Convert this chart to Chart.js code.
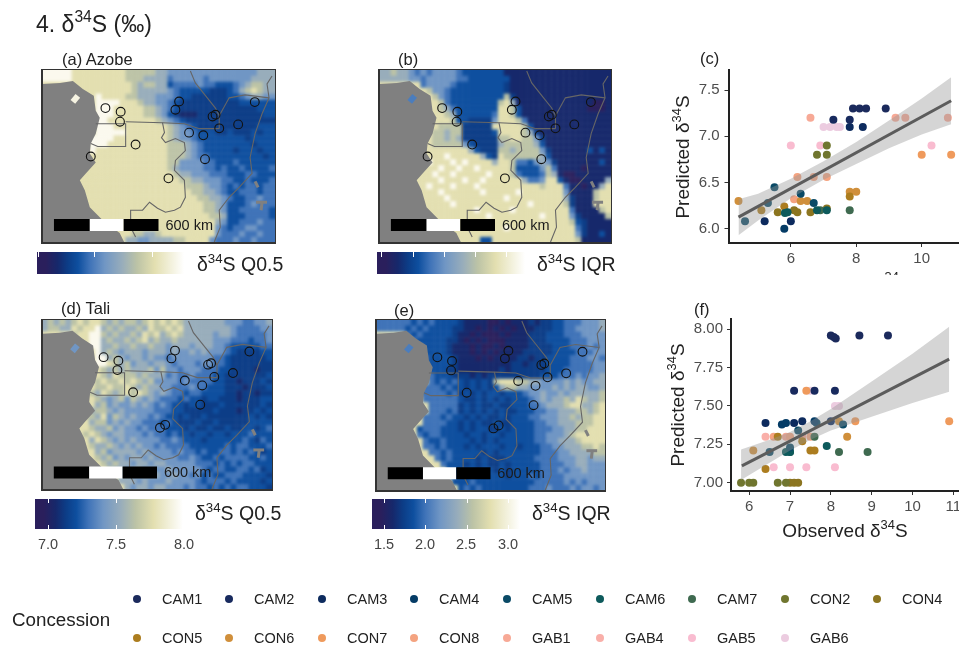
<!DOCTYPE html>
<html>
<head>
<meta charset="utf-8">
<title>d34S maps</title>
<script src="https://cdn.jsdelivr.net/npm/chart.js@4/dist/chart.umd.js"></script>
<style>
html,body{margin:0;padding:0;background:#fff;overflow:hidden}
#page{position:relative;width:959px;height:646px;overflow:hidden;font-family:"Liberation Sans",Arial,sans-serif;color:#222;filter:blur(.3px)}
#page canvas{position:absolute}
.t{position:absolute;white-space:nowrap;line-height:1;transform:translateY(-50%)}
.t sup{font-size:68%;line-height:0;vertical-align:baseline;position:relative;top:-.62em}
.frame{position:absolute;box-sizing:border-box;border-style:solid;border-color:#333;border-width:1.5px 1.5px 2.5px 2px;pointer-events:none}
.clip{position:absolute;overflow:hidden}
.bar{position:absolute}
.tick{position:absolute;width:1px;background:#fff}
.dot{position:absolute;border-radius:50%}
</style>
</head>
<body>
<div id="page"></div>
<script>
// 色階:代碼 0-9 對應
const ramp = ["#2a1f5c","#16286b","#0c3d87","#0e4f9f","#3f73b8","#7096c4","#98adbb","#bcc3a6","#e3dfb0","#fbf9ee"];

// 網格值 (每列 39 格,29 列)
const gridA = [
"99999 88888 88887 77776 65555 55555 55555 5666",
"99999 88888 88887 77666 64555 55455 55555 6666",
"88888 88888 88888 76776 63444 45443 33456 7766",
"88888 88888 88888 76666 65433 33322 23467 8766",
"88888 88889 88887 76665 55433 22222 23345 6655",
"88888 88889 99988 87665 54322 22222 22233 3333",
"88888 88889 99888 88776 54322 22222 22222 2333",
"88888 88889 99888 88776 53211 12222 22222 2233",
"88888 88889 98888 88887 65432 22222 22222 2222",
"88888 88889 99888 88888 87654 32222 22222 2333",
"88888 88889 99998 88888 87655 43332 23222 3233",
"88888 88899 99888 88888 87655 43333 33332 3333",
"88888 88899 98888 88888 87776 54333 33333 2333",
"88888 88898 88888 88888 87776 54333 33233 3233",
"88888 88888 88888 88888 87776 54433 33333 3323",
"88888 88888 88888 88888 87755 55443 33433 3333",
"88888 88888 88888 88888 87655 55443 43343 3334",
"88888 88888 88888 88888 88766 55544 43334 4333",
"88888 88888 88888 88888 88877 66555 44334 3334",
"88888 88888 88888 88888 88887 77655 43434 4344",
"88888 88888 88888 88888 88888 77665 43344 4344",
"88888 88888 88888 88888 88888 87766 54334 4544",
"88888 88888 88888 88888 88888 88776 53334 5444",
"88888 88888 88888 88888 88888 88776 53344 4443",
"88888 88888 88888 88888 88888 88877 63334 4443",
"88888 88888 88888 88888 88888 88886 53344 4544",
"88888 88888 88888 88888 88888 88885 43445 5444",
"88888 88888 88888 77667 88888 88885 44454 4544",
"88888 88888 88886 65566 66778 88854 44544 5444"
];
const gridB = [
"66766 54545 55543 33333 31111 11111 11111 1111",
"66666 55455 55544 33333 33111 11111 11111 1111",
"88888 88455 55433 33333 32111 11111 11111 1111",
"88888 88875 54333 33333 32111 11111 11111 1111",
"88888 88887 54333 33333 37211 11111 11111 1111",
"88888 88888 74333 33333 78611 11111 11111 1001",
"88888 88888 76433 33333 88731 11111 11111 0001",
"88888 88888 87633 33334 88731 11111 11111 1111",
"88888 88888 88733 22225 88874 11111 11111 1111",
"88888 88888 77772 22228 88887 31111 11111 1111",
"88888 88887 76772 22223 88887 62111 11111 1111",
"88888 88887 76762 22222 77887 75211 11111 1111",
"88888 88887 77775 32222 67777 76311 11111 1111",
"88888 88888 88888 63222 77677 77521 11111 3131",
"88888 88888 89888 88632 87777 77631 11111 1111",
"88888 88898 88989 88886 88744 35652 11111 1131",
"88888 88888 98898 89888 88733 33574 11110 1111",
"88888 88889 88988 88898 88743 33476 10011 1111",
"88888 88888 98889 88988 88886 44588 31001 1116",
"88888 88898 88988 89888 88888 88788 84110 1168",
"88888 88888 98888 88988 88898 88888 85111 1788",
"88888 88888 89888 88888 89888 88888 86211 1788",
"88888 88888 88988 88888 88888 98888 87211 1888",
"88888 88888 88888 89888 88988 88888 88411 1178",
"88888 88888 88888 88898 88888 88988 88521 1117",
"88888 88888 88888 88888 88888 88888 88732 1111",
"88888 88888 88888 88888 89888 88888 88842 1111",
"88888 88888 88888 88888 88888 88888 88852 1131",
"88888 88888 88888 88338 88888 88888 88871 1111"
];
const gridD = [
"67676 78788 76767 76787 87876 66666 65554 4556",
"67766 87889 67676 67687 78786 66666 66544 4455",
"88888 78899 76766 76878 67876 66665 66544 4445",
"88888 88899 67667 67867 66766 66665 55444 3445",
"88888 88899 66766 76676 65666 56665 54333 3344",
"88888 88889 67656 66566 65655 65655 54322 2233",
"88888 88889 96765 66565 54555 55554 43222 2223",
"88888 88889 98767 56656 65455 54554 43222 2222",
"88888 88898 76767 66675 75545 55444 33222 2122",
"88888 88888 76877 76766 64544 54443 32222 2223",
"88888 88887 87787 87675 55545 44443 32212 2232",
"88888 88887 78778 76766 55444 54433 32221 2223",
"88888 88876 87678 78765 65443 44333 32212 2122",
"88888 88887 65675 76565 44434 33233 22212 2233",
"88888 88786 75655 65654 54332 33222 32222 2232",
"88888 88867 76565 55554 44332 22223 22212 2323",
"88888 88776 85765 65545 43323 22322 22222 3232",
"88888 88867 75656 55444 34322 23223 22222 3333",
"88888 88876 67565 54544 43332 32232 23223 3234",
"88888 88787 65665 55454 43433 23323 32333 4333",
"88888 88868 76565 65555 44543 33233 33334 3243",
"88888 88876 67656 56554 54444 33333 34344 3334",
"88888 88886 75666 65655 55454 43433 44343 4323",
"88888 88887 67565 66565 55544 54334 34444 3343",
"88888 88888 76766 56656 65555 54443 43434 4333",
"88888 88888 87665 66565 56555 55434 43344 3423",
"88888 88888 88766 56566 55655 45343 34443 3332",
"88888 88888 88866 65655 56555 54344 43433 3323",
"88888 88888 88886 56656 65554 54434 34344 3332"
];
const gridE = [
"44444 43434 33332 11110 01011 12122 33444 5556",
"44444 34343 33322 11010 10101 11222 33445 5556",
"88888 43433 33321 10100 01011 12223 33444 5555",
"88888 84333 33221 01010 00111 12223 33344 4555",
"88888 84433 33211 10100 10111 12222 33344 4545",
"88888 88433 33211 10101 01111 22222 33334 4455",
"88888 88843 33321 11010 11112 21223 33344 4554",
"88888 88843 33321 11111 11122 12223 33344 4455",
"88888 88843 33221 11111 12122 22223 33444 4455",
"88888 88844 33322 21212 22222 22233 34445 4556",
"88888 88884 34343 23232 78887 76655 55656 5566",
"88888 88844 43433 23232 36776 65555 65656 6556",
"88888 88444 44342 32323 32333 45565 56566 6667",
"88888 88844 44443 22323 23233 34565 66768 7667",
"88888 88884 44442 32322 32233 34456 66788 6678",
"88888 88884 44342 32323 23223 33445 56667 7678",
"88888 88844 43433 23232 23233 34455 56676 7788",
"88888 88844 44332 32322 32233 33445 56667 7788",
"88888 88344 43332 32332 23233 33444 55667 7888",
"88888 88434 43333 23323 32333 33445 55678 8888",
"88888 88843 34333 32323 23333 33445 56667 8888",
"88888 88844 34333 23233 32332 33344 55666 7787",
"88888 88884 43433 33323 23333 33344 45566 6677",
"88888 88888 43433 33232 22333 33444 45556 6566",
"88888 88888 84333 23232 23233 33344 44556 6555",
"88888 88888 88333 33233 23233 33344 45455 6555",
"88888 88888 88343 33333 33233 34344 44555 5555",
"88888 88888 88833 34333 33333 33444 44545 4555",
"88888 88888 88883 43433 33333 34445 44454 5545"
];

// 地圖座標 (單位約 5.7 km)
const sitesAB = [[63.7,38.3],[79,42],[78.3,52],[94,75],[49,87],[127,109],[137.7,31.7],[134,40],[147.7,63],[162,65.7],[163.7,89.7],[178,58.7],[171.3,46.7],[174.3,45],[197,54.7],[213.7,32.3]];
const sitesDE = [[62.7,38],[77.7,41.7],[76.7,51.3],[92.7,74],[120,110.3],[125.3,107.3],[135.3,31.3],[131.7,39.3],[145.3,62],[163,67],[161,86.7],[175.3,58.3],[169,45.7],[172,44.3],[194.3,54.3],[211,32.3]];
const ocean = [[0,14],[18,13],[31,11],[41,19],[52,26],[54,41],[58,48],[54,64],[49,74],[48,84],[54,93],[44,104],[38,111],[43,121],[48,138],[61,151],[78,164],[83,174],[0,174]];
const island = [[31,32],[36,26]];
const lakes = [[[215,133],[226,133]],[[221,133],[220,141]],[[214,112],[217,118]]];
const borders = [
  [[54,54],[84,54],[84,77],[56,77],[49,74]],
  [[84,52],[121,53],[143,54],[158,59],[178,59]],
  [[121,53],[123,63],[120,68],[124,73],[134,69],[143,73],[144,81],[134,91],[133,101],[143,111],[144,128],[139,138],[133,141],[124,143],[116,139],[108,133],[101,141],[89,141],[89,158],[94,168]],
  [[149,1],[154,13],[166,28],[174,38],[178,46],[178,59]],
  [[178,46],[188,28],[204,25],[228,28]],
  [[231,6],[226,14],[228,28],[221,44],[214,64],[209,88],[211,104],[198,118],[188,128],[178,141],[179,158],[173,173]]
];
const barStops = [12,48,82,117];

// 特許區
const concessions = ["CAM1","CAM2","CAM3","CAM4","CAM5","CAM6","CAM7","CON2","CON4","CON5","CON6","CON7","CON8","GAB1","GAB4","GAB5","GAB6"];
const concessionColors = ["#1b2a5c","#182a5e","#0d2b5e","#053c66","#0a4a66","#0d5a5c","#3f6a50","#70762f","#8c7520","#ac7d1f","#d08f3b","#ef9a5c","#f4a380","#f7a996","#f9afa9","#f9bcd0","#eccce0"];

// (c) Azobe 觀測值/預測值
const obsC = [[7.9,8.1,8.3,8.9],[7.3,7.8],[7.8,8.2,5.2,6.0],[5.8],[6.3,6.7,5.3,5.5,4.6],[5.82,5.9,6.8,7.1],[7.8,6.9],[6.8,7.1,7.1],[5.6,6.2,6.6,7.1,6.1],[5.8,5.1,7.8],[4.4,6.3,6.5,7.8,8.0],[10,10.9],[6.1,6.2,7.1,6.7],[6.6,9.2,9.5,10.8],[],[6.0,6.9,10.3],[7.0,7.2,7.4,7.5]];
const predC = [[7.3,7.3,7.3,7.3],[7.18,7.18],[7.1,7.1,6.08,6.08],[6.0],[6.38,6.28,6.28,6.45,6.08],[6.17,6.18,6.2,6.2],[6.2,6.2],[6.8,6.8,6.9],[6.18,6.18,6.18,6.22,6.2],[6.24,6.2,6.35],[6.3,6.3,6.3,6.4,6.4],[6.8,6.8],[6.32,6.56,6.56,6.56],[7.2,7.2,7.2,7.2],[],[6.9,6.9,6.9],[7.1,7.1,7.1,7.1]];
const fitXC = [4.4,10.9];
const fitYC = [6.126,7.385];
const bandXC = [4.4,5,6,7,8,9,10,10.9];
const bandHiC = [6.32,6.38,6.54,6.73,6.94,7.17,7.41,7.64];
const bandLoC = [5.93,6.09,6.33,6.53,6.7,6.87,7.02,7.13];
const xTicksC = [6,8,10];
const yTicksC = [6,6.5,7,7.5];

// (f) Tali 觀測值/預測值
const obsF = [[8.0,8.12,8.7,9.4,8.07],[7.1,7.6,8.1],[6.4,7.1,7.3,8.0],[6.8,6.9,7.6],[7.2,7.65,8.3,6.5,7.0],[7.9,7.0,6.9],[7.6,8.9,8.2,7.0],[5.8,6.0,6.1,6.7,6.9],[7.0,7.1,7.2],[6.4,7.5,7.6,7.3,6.7],[6.1,8.4,8.2],[7.4,8.6,10.9],[6.6,7.0,7.5],[6.9,7.3],[6.4],[6.6,7.0,7.4,8.1],[7.5,8.1,8.2]];
const predF = [[7.96,7.94,7.96,7.96,7.95],[7.6,7.6,7.6],[7.39,7.39,7.4,7.4],[7.38,7.39,7.4],[7.34,7.39,7.38,7.2,7.23],[7.24,7.2,7.2],[7.3,7.2,7.2,7.2],[7.0,7.0,7.0,7.0,7.0],[7.0,7.0,7.0],[7.09,7.21,7.21,7.27,7.3],[7.21,7.3,7.4],[7.6,7.4,7.4],[7.3,7.3,7.3],[7.3,7.3],[7.3],[7.1,7.1,7.1,7.1],[7.6,7.5,7.5]];
const fitXF = [5.82,10.9];
const fitYF = [7.11,7.806];
const bandXF = [5.8,6.5,7,7.5,8,9,10,10.9];
const bandHiF = [7.217,7.28,7.33,7.4,7.48,7.66,7.84,8.017];
const bandLoF = [7.017,7.13,7.21,7.28,7.34,7.43,7.52,7.593];
const xTicksF = [6,7,8,9,10,11];
const yTicksF = [7,7.25,7.5,7.75,8];

const ticksD = [7.0,7.5,8.0];
const ticksE = [1.5,2.0,2.5,3.0];

const page = document.getElementById('page');
const toPts = a => a.map(p => ({x:p[0],y:p[1]}));
const zip = (xs,ys) => xs.map((x,i) => ({x:x,y:ys[i]}));

function addText(html,x,y,size,opts){
  const d = document.createElement('div');
  d.className = 't';
  d.innerHTML = html;
  d.style.left = x+'px';
  d.style.top = y+'px';
  d.style.fontSize = size+'px';
  if(opts && opts.color) d.style.color = opts.color;
  if(opts && opts.center) d.style.transform = 'translate(-50%,-50%)';
  if(opts && opts.rotate) d.style.transform = 'translate(-50%,-50%) rotate(-90deg)';
  page.appendChild(d);
  return d;
}

function addCanvas(x,y,w,h,parent){
  const c = document.createElement('canvas');
  c.width = w; c.height = h;
  c.style.left = x+'px'; c.style.top = y+'px';
  c.style.width = w+'px'; c.style.height = h+'px';
  (parent||page).appendChild(c);
  return c;
}

function lineSet(pts,color,width){
  return {data:toPts(pts),showLine:true,pointRadius:0,borderColor:color,borderWidth:width,borderCapStyle:'butt',fill:false};
}

const mapOptions = (xMin,xMax,yMin,yMax) => ({
  responsive:false,animation:false,
  layout:{autoPadding:false,padding:0},
  plugins:{legend:{display:false},tooltip:{enabled:false}},
  scales:{
    x:{type:'linear',min:xMin,max:xMax,display:false},
    y:{type:'linear',min:yMin,max:yMax,reverse:true,display:false}
  }
});

// 地圖:網格 (模糊一層) + 海 + 邊界 + 樣點
function drawMap(f,grid,sites,islandColor,barY){
  const rows = grid.map(row => row.replace(/ /g,''));
  const cells = [], colors = [];
  // 外圈多畫一格,模糊時邊緣才不會變淡
  for(let r=-1;r<=rows.length;r++){
    for(let c=-1;c<=39;c++){
      const v = rows[Math.min(Math.max(r,0),rows.length-1)][Math.min(Math.max(c,0),38)];
      cells.push({x:(c+.5)*6,y:(r+.5)*6});
      colors.push(ramp[+v]);
    }
  }
  const sx = f.w/234, sy = f.h/174;
  const clip = document.createElement('div');
  clip.className = 'clip';
  clip.style.cssText = `left:${f.x}px;top:${f.y}px;width:${f.w}px;height:${f.h}px`;
  page.appendChild(clip);
  const rasterW = Math.round(f.w+12*sx), rasterH = Math.round(f.h+12*sy);
  const raster = addCanvas(-6*sx,-6*sy,rasterW,rasterH,clip);
  raster.style.filter = 'blur(1.5px)';
  new Chart(raster,{
    type:'scatter',
    data:{datasets:[{data:cells,pointStyle:'rect',pointRadius:4.45,pointBorderWidth:0,pointBackgroundColor:colors,showLine:false}]},
    options:mapOptions(-6,240,-6,180)
  });

  const layers = [];
  layers.push({data:toPts(ocean),showLine:true,pointRadius:0,borderWidth:0,backgroundColor:'#808080',fill:'shape'});
  layers.push(lineSet(island,islandColor,6));
  lakes.forEach(l => layers.push(lineSet(l,'#808080',3)));
  borders.forEach(b => layers.push(lineSet(b,'#666666',1.1)));
  barStops.slice(0,-1).forEach((s,i) => {
    layers.push(lineSet([[s,barY],[barStops[i+1],barY]],i==1?'#ffffff':'#000000',12));
  });
  layers.push({data:toPts(sites),showLine:false,pointStyle:'circle',pointRadius:4.4,pointBorderWidth:1.1,pointBorderColor:'#111',pointBackgroundColor:'rgba(0,0,0,0)'});
  layers.forEach((l,i) => { l.order = layers.length-i; });
  new Chart(addCanvas(f.x,f.y,f.w,f.h),{
    type:'scatter',
    data:{datasets:layers},
    options:mapOptions(0,234,0,174)
  });
  const fr = document.createElement('div');
  fr.className = 'frame';
  fr.style.cssText = `left:${f.x-1}px;top:${f.y-1}px;width:${f.w+2}px;height:${f.h+2}px`;
  page.appendChild(fr);
  addText('600 km',f.x+sx*124,f.y+sy*barY,14.5,{color:'#1a1a1a'});
}

// 色條
function colorBar(x,y,w,h,tickXs,both){
  const b = document.createElement('div');
  b.className = 'bar';
  b.style.cssText = `left:${x}px;top:${y}px;width:${w}px;height:${h}px;background:linear-gradient(to right,${ramp[0]} 6%,${ramp[1]} 14%,${ramp[2]} 21%,${ramp[3]} 28%,${ramp[4]} 36%,${ramp[5]} 46%,${ramp[6]} 58%,${ramp[7]} 68%,${ramp[8]} 80%,#ffffff 100%)`;
  page.appendChild(b);
  tickXs.forEach(t => {
    [0].concat(both?[h-4]:[]).forEach(o => {
      const k = document.createElement('div');
      k.className = 'tick';
      k.style.left = t+'px';
      k.style.top = (y+o)+'px';
      k.style.height = (both?4:5)+'px';
      page.appendChild(k);
    });
  });
}

// 散佈圖
function drawScatter(box,obs,pred,fitX,fitY,bandX,bandHi,bandLo,xTicks,yTicks,digits,xr,yr){
  const sets = concessions.map((n,i) => ({
    label:n,data:zip(obs[i],pred[i]),showLine:false,
    pointRadius:4,pointBorderWidth:0,pointBackgroundColor:concessionColors[i],order:10
  }));
  sets.push({label:'hi',data:zip(bandX,bandHi),showLine:true,pointRadius:0,borderWidth:0,backgroundColor:'rgba(150,150,150,0.4)',fill:'+1',order:5});
  sets.push({label:'lo',data:zip(bandX,bandLo),showLine:true,pointRadius:0,borderWidth:0,fill:false,order:5});
  sets.push({label:'fit',data:zip(fitX,fitY),showLine:true,pointRadius:0,borderColor:'#5c5c5c',borderWidth:3,fill:false,order:1});
  const axisFont = {family:'"Liberation Sans",Arial,sans-serif',size:15};
  new Chart(addCanvas(box.x,box.y,box.w,box.h),{
    type:'scatter',
    data:{datasets:sets},
    options:{
      responsive:false,animation:false,
      layout:{autoPadding:false,padding:{top:box.top,right:0,left:0,bottom:0}},
      plugins:{legend:{display:false},tooltip:{enabled:false}},
      scales:{
        x:{
          type:'linear',min:xr[0],max:xr[1],
          afterBuildTicks:s => { s.ticks = xTicks.map(v => ({value:v})); },
          afterFit:s => { s.height = box.bottom; s.paddingLeft = 0; s.paddingRight = 0; },
          ticks:{color:'#4d4d4d',font:axisFont,padding:3,maxRotation:0,autoSkip:false,callback:v => String(v)},
          grid:{drawOnChartArea:false,drawTicks:true,tickLength:4,color:'#333'},
          border:{color:'#222',width:2}
        },
        y:{
          type:'linear',min:yr[0],max:yr[1],
          afterBuildTicks:s => { s.ticks = yTicks.map(v => ({value:v})); },
          afterFit:s => { s.width = box.left; s.paddingTop = 0; s.paddingBottom = 0; },
          ticks:{color:'#4d4d4d',font:axisFont,padding:box.pad,autoSkip:false,callback:v => v.toFixed(digits)},
          grid:{drawOnChartArea:false,drawTicks:true,tickLength:4,color:'#333'},
          border:{color:'#222',width:2}
        }
      }
    }
  });
}

const delta = 'δ<sup>34</sup>S';

addText('4. '+delta+' (‰)',36,24,23);

drawMap({x:42,y:70,w:233,h:173},gridA,sitesAB,'#f6f3e2',156);
drawMap({x:379,y:70,w:232,h:173},gridB,sitesAB,'#4b7dbd',156);
drawMap({x:42,y:320,w:230,h:170},gridD,sitesDE,'#7096c4',156);
drawMap({x:376,y:320,w:229,h:171},gridE,sitesDE,'#4b7dbd',156);

addText('(a) Azobe',62,59,16.5);
addText('(b)',398,59,16.5);
addText('(d) Tali',61,308,16.5);
addText('(e)',394,310,16.5);
addText('(c)',700,58,16.5);
addText('(f)',694,309,16.5);

colorBar(37,252,147,22,[38,94,152],false);
colorBar(377,252,148,22,[381,413,444,475,506],false);
colorBar(35,499,148,30,[48,116,182],true);
colorBar(372,499,148,30,[384,425,467,508],true);

addText(delta+' Q0.5',197,265,19.5);
addText(delta+' IQR',537,265,19.5);
addText(delta+' Q0.5',195,514,19.5);
addText(delta+' IQR',532,514,19.5);

const labelsD = [48,116,184];
ticksD.forEach((v,i) => addText(v.toFixed(1),labelsD[i],544,14.5,{center:true,color:'#444'}));
const labelsE = [384,425,466,508];
ticksE.forEach((v,i) => addText(v.toFixed(1),labelsE[i],544,14.5,{center:true,color:'#444'}));

drawScatter({x:660,y:60,w:299,h:215,left:68.5,top:9.5,bottom:32,pad:5},obsC,predC,fitXC,fitYC,bandXC,bandHiC,bandLoC,xTicksC,yTicksC,1,[4.095,11.14],[5.846,7.723]);
drawScatter({x:660,y:310,w:299,h:215,left:71,top:9,bottom:34,pad:4},obsF,predF,fitXF,fitYF,bandXF,bandHiF,bandLoF,xTicksF,yTicksF,2,[5.554,11.14],[6.946,8.067]);

addText('Predicted '+delta,682,157,19,{rotate:true});
addText('Predicted '+delta,677,405,19,{rotate:true});
addText('Observed '+delta,845,530,19,{center:true});

// (c) 的 x 軸標題被下一列裁掉
const cut = document.createElement('div');
cut.className = 'clip';
cut.style.cssText = 'left:700px;top:262px;width:259px;height:13px';
const cutText = addText('Observed '+delta,149,20,19,{center:true});
cut.appendChild(cutText);
page.appendChild(cut);

// 圖例
const legendX = [137,229,322,414,507,600,692,785,877];
const legendY = [599,638];
concessions.forEach((n,i) => {
  const row = i<9?0:1;
  const col = i<9?i:i-9;
  const d = document.createElement('div');
  d.className = 'dot';
  d.style.cssText = `left:${legendX[col]-4}px;top:${legendY[row]-4}px;width:8px;height:8px;background:${concessionColors[i]}`;
  page.appendChild(d);
  addText(n,legendX[col]+25,legendY[row],14.5);
});
addText('Concession',12,620,18.8);
</script>
</body>
</html>
